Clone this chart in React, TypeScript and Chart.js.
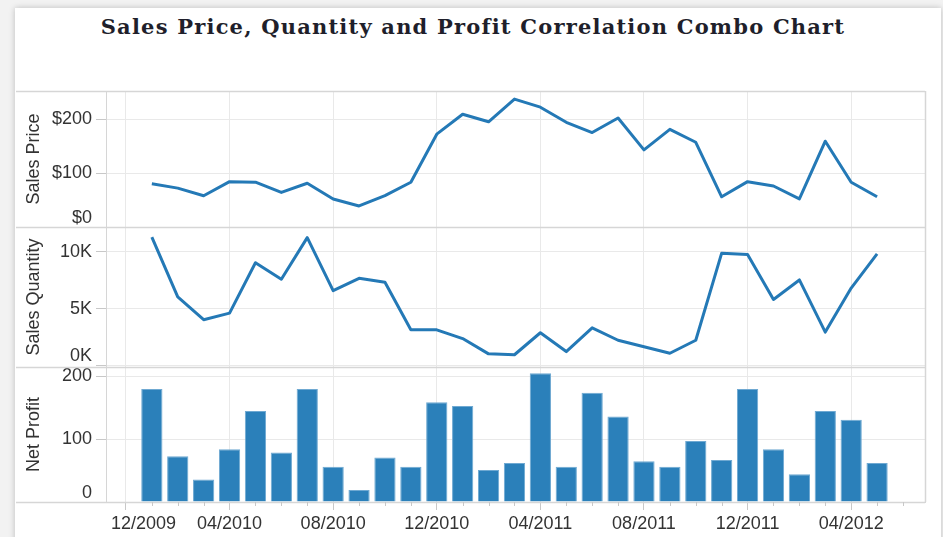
import React, { useEffect, useRef } from 'react';
import { Chart, registerables } from 'chart.js';

Chart.register(...registerables);

// ---- data ----
const months = [
  '01/2010', '02/2010', '03/2010', '04/2010', '05/2010', '06/2010', '07/2010', '08/2010', '09/2010', '10/2010', '11/2010', '12/2010',
  '01/2011', '02/2011', '03/2011', '04/2011', '05/2011', '06/2011', '07/2011', '08/2011', '09/2011', '10/2011', '11/2011', '12/2011',
  '01/2012', '02/2012', '03/2012', '04/2012', '05/2012',
];
const salesPrice = [80, 72, 58, 84, 83, 64, 81, 52, 39, 58, 83, 172, 209, 195, 237, 222, 194, 175, 202, 143, 181, 157, 56, 84, 76, 52, 159, 83, 56];
const salesQuantity = [11300, 6030, 4020, 4600, 9050, 7590, 11260, 6580, 7670, 7330, 3130, 3130, 2360, 1010, 930, 2870, 1210, 3300, 2210, 1640, 1060, 2210, 9890, 9770, 5800, 7530, 2930, 6810, 9830];
const netProfit = [180, 73, 36, 84, 145, 79, 180, 56, 19, 71, 56, 159, 153, 51, 62, 205, 56, 174, 136, 65, 56, 97, 67, 180, 84, 44, 145, 131, 62];
const xTickLabels = ['12/2009', '04/2010', '08/2010', '12/2010', '04/2011', '08/2011', '12/2011', '04/2012'];
const priceTicks = [0, 100, 200];
const quantityTicks = [0, 5000, 10000];
const profitTicks = [0, 100, 200];

const TITLE = 'Sales Price, Quantity and Profit Correlation Combo Chart';

// months since 12/2009
const monthIndex = (s: string) => {
  const [m, y] = s.split('/').map(Number);
  return (y - 2009) * 12 + m - 12;
};

const LINE = '#2479b6';
const BAR = '#2b80ba';
const TXT = '#333333';
const GRID = '#e9e9e9';
const FRAME = '#d6d6d6';
const FONT = "'Liberation Sans', Arial, sans-serif";

const framePlugin = {
  id: 'frame',
  afterDraw(chart: any) {
    const { ctx, chartArea, scales } = chart;
    ctx.save();
    ctx.strokeStyle = FRAME;
    ctx.lineWidth = 1.5;
    const hline = (y: number) => {
      const py = Math.round(y) + 0.5;
      ctx.beginPath();
      ctx.moveTo(0, py);
      ctx.lineTo(chartArea.right, py);
      ctx.stroke();
    };
    ['yPrice', 'yQty', 'yBar'].forEach((id) => hline(scales[id].top));
    hline(chartArea.bottom);
    const rx = Math.round(chartArea.right) + 0.5;
    ctx.beginPath();
    ctx.moveTo(rx, chartArea.top);
    ctx.lineTo(rx, chartArea.bottom);
    ctx.stroke();
    // minor month ticks
    const xs = scales.x;
    ctx.lineWidth = 1;
    ctx.strokeStyle = '#c8c8c8';
    ctx.beginPath();
    for (let m = Math.ceil(xs.min); m <= xs.max; m++) {
      if (m % 4 === 0) continue;
      const px = Math.round(xs.getPixelForValue(m)) + 0.5;
      ctx.moveTo(px, chartArea.bottom);
      ctx.lineTo(px, chartArea.bottom + 4);
    }
    ctx.stroke();
    ctx.restore();
  },
};

const yScale = (ticks: number[], min: number, max: number, fmt: (v: number) => string, title: string, weight: number, stackWeight: number) => ({
  type: 'linear' as const,
  position: 'left' as const,
  stack: 'panels',
  stackWeight,
  weight,
  min,
  max,
  afterBuildTicks: (s: any) => {
    s.ticks = ticks.map((v) => ({ value: v }));
  },
  afterFit: (s: any) => {
    s.width = 90;
  },
  grid: { color: GRID, tickColor: '#c8c8c8', tickLength: 10, drawTicks: true },
  border: { color: FRAME },
  ticks: {
    color: TXT,
    padding: 4,
    font: { family: FONT, size: 18, lineHeight: 1.0 },
    autoSkip: false,
    callback: (v: any) => (Number(v) === 0 ? [fmt(Number(v)), ''] : fmt(Number(v))),
  },
  title: {
    display: true,
    text: title,
    color: TXT,
    font: { family: FONT, size: 18 },
    padding: { top: 7, bottom: 0 },
  },
});

export default function App() {
  const ref = useRef<HTMLCanvasElement>(null);

  useEffect(() => {
    if (!ref.current) return;
    const xs = months.map(monthIndex);
    const tickVals = xTickLabels.map(monthIndex);
    const chart = new Chart(ref.current, {
      type: 'bar',
      data: {
        datasets: [
          {
            type: 'line',
            label: 'Sales Price',
            data: xs.map((x, i) => ({ x, y: salesPrice[i] })),
            yAxisID: 'yPrice',
            borderColor: LINE,
            borderWidth: 3,
            pointRadius: 0,
            tension: 0,
            borderJoinStyle: 'round',
          } as any,
          {
            type: 'line',
            label: 'Sales Quantity',
            data: xs.map((x, i) => ({ x, y: salesQuantity[i] })),
            yAxisID: 'yQty',
            borderColor: LINE,
            borderWidth: 3,
            pointRadius: 0,
            tension: 0,
            borderJoinStyle: 'round',
          } as any,
          {
            type: 'bar',
            label: 'Net Profit',
            data: xs.map((x, i) => ({ x, y: netProfit[i] })),
            yAxisID: 'yBar',
            backgroundColor: BAR,
            borderColor: '#6fa9d2',
            borderWidth: 1,
            categoryPercentage: 1,
            barPercentage: 0.82,
          } as any,
        ],
      },
      options: {
        responsive: false,
        animation: false,
        devicePixelRatio: 1,
        events: [],
        layout: { padding: { top: 83, right: 18, bottom: 0, left: 0 } },
        plugins: { legend: { display: false }, tooltip: { enabled: false }, title: { display: false } },
        scales: {
          x: {
            type: 'linear',
            position: 'bottom',
            offset: false,
            min: -0.77,
            max: 30.85,
            afterBuildTicks: (s: any) => {
              s.ticks = tickVals.map((v) => ({ value: v }));
            },
            afterFit: (s: any) => {
              s.height = 35;
            },
            grid: { color: GRID, tickColor: '#c8c8c8', tickLength: 8, offset: false },
            border: { color: FRAME },
            ticks: {
              color: TXT,
              padding: 3,
              maxRotation: 0,
              minRotation: 0,
              autoSkip: false,
              font: { family: FONT, size: 18 },
              callback: (v: any) => {
                const idx = tickVals.indexOf(Number(v));
                const lab = idx >= 0 ? xTickLabels[idx] : '';
                return idx === 0 ? '       ' + lab : lab;
              },
            },
          },
          yBar: yScale(profitTicks, 0, 215, (v) => String(v), 'Net Profit', 1, 135),
          yQty: yScale(quantityTicks, -150, 12200, (v) => v / 1000 + 'K', 'Sales Quantity', 2, 140),
          yPrice: yScale(priceTicks, 0, 252, (v) => '$' + v, 'Sales Price', 3, 136),
        } as any,
      },
      plugins: [framePlugin],
    });
    return () => chart.destroy();
  }, []);

  return (
    <div style={{ position: 'fixed', left: 0, top: 0, width: 943, height: 537, background: '#f2f2f2', overflow: 'hidden' }}>
      <div
        style={{
          position: 'absolute',
          left: 15,
          top: 8,
          width: 926,
          height: 540,
          background: '#ffffff',
          boxShadow: '0 0 6px rgba(0,0,0,0.22)',
        }}
      />
      <div
        style={{
          position: 'absolute',
          left: 0,
          top: 14,
          width: 946,
          textAlign: 'center',
          fontFamily: "'DejaVu Serif', serif",
          fontWeight: 'bold',
          fontSize: 21,
          letterSpacing: '1.2px',
          lineHeight: '26px',
          color: '#1f1f2b',
          whiteSpace: 'nowrap',
        }}
      >
        {TITLE}
      </div>
      <canvas ref={ref} width={927} height={529} style={{ position: 'absolute', left: 16, top: 8 }} />
    </div>
  );
}
